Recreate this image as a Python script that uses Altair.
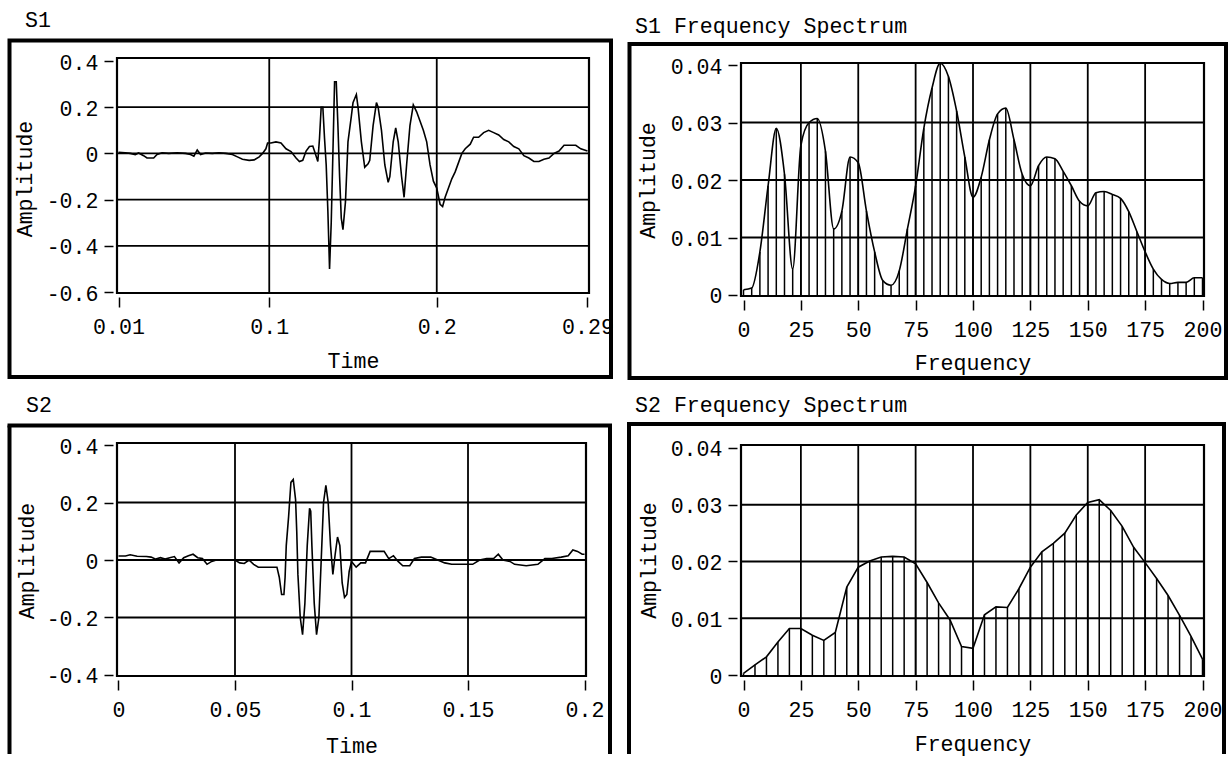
import altair as alt
import pandas as pd

FONT = "Liberation Mono"
FS = 21.6

# ---------------- data ----------------
s1_t = [0.010, 0.014, 0.017, 0.020, 0.022, 0.025, 0.027, 0.031, 0.033, 0.036, 0.040, 0.045, 0.050,
        0.053, 0.055, 0.057, 0.059, 0.062, 0.066, 0.070, 0.074, 0.078, 0.081, 0.084, 0.088, 0.091,
        0.094, 0.096, 0.098, 0.099, 0.101, 0.104, 0.107, 0.110, 0.113, 0.116, 0.118, 0.120, 0.122,
        0.124, 0.126, 0.127, 0.129, 0.130, 0.131, 0.132, 0.133, 0.134, 0.135, 0.136, 0.137, 0.138,
        0.139, 0.140, 0.141, 0.142, 0.143, 0.144, 0.1455, 0.147, 0.149, 0.150, 0.152, 0.153, 0.155,
        0.157, 0.159, 0.160, 0.162, 0.164, 0.165, 0.167, 0.169, 0.171, 0.172, 0.174, 0.1755, 0.177,
        0.179, 0.1805, 0.182, 0.184, 0.186, 0.188, 0.190, 0.192, 0.194, 0.196, 0.198, 0.200, 0.202,
        0.2035, 0.205, 0.207, 0.209, 0.211, 0.213, 0.215, 0.217, 0.220, 0.222, 0.225, 0.228, 0.231,
        0.234, 0.237, 0.240, 0.243, 0.246, 0.249, 0.252, 0.255, 0.258, 0.261, 0.264, 0.267, 0.270,
        0.273, 0.276, 0.280, 0.283, 0.286, 0.290]
s1_a = [0.005, 0.003, 0.0, -0.005, 0.002, -0.01, -0.02, -0.02, -0.005, 0.003, 0.0, 0.003, 0.0,
        -0.005, -0.012, 0.015, -0.005, 0.002, 0.0, 0.003, 0.0, -0.005, -0.015, -0.025, -0.03, -0.028,
        -0.015, 0.0, 0.02, 0.045, 0.045, 0.05, 0.045, 0.02, 0.008, -0.02, -0.035, -0.03, 0.01,
        0.03, 0.032, 0.01, -0.035, 0.065, 0.2, 0.2, 0.065, -0.05, -0.25, -0.5, -0.3, 0.0,
        0.31, 0.31, 0.12, -0.1, -0.28, -0.33, -0.21, 0.05, 0.16, 0.22, 0.255, 0.2, 0.05,
        -0.06, -0.045, -0.03, 0.12, 0.22, 0.2, 0.1, -0.05, -0.125, -0.1, 0.05, 0.11, 0.05,
        -0.1, -0.19, -0.05, 0.12, 0.21, 0.18, 0.14, 0.1, 0.05, -0.05, -0.12, -0.15, -0.22,
        -0.23, -0.19, -0.15, -0.11, -0.08, -0.04, 0.0, 0.02, 0.04, 0.07, 0.07, 0.09, 0.1,
        0.09, 0.08, 0.06, 0.05, 0.03, 0.02, -0.01, -0.02, -0.035, -0.035, -0.025, -0.02, 0.0,
        0.01, 0.035, 0.035, 0.035, 0.02, 0.01]

s2_t = [0.000, 0.003, 0.005, 0.008, 0.012, 0.014, 0.016, 0.018, 0.020, 0.022, 0.024, 0.026, 0.028,
        0.030, 0.032, 0.034, 0.036, 0.038, 0.040, 0.042, 0.045, 0.050, 0.052, 0.054, 0.056, 0.058,
        0.060, 0.063, 0.066, 0.068, 0.069, 0.070, 0.071, 0.0715, 0.072, 0.073, 0.074, 0.075, 0.076,
        0.0765, 0.077, 0.078, 0.079, 0.080, 0.081, 0.082, 0.0825, 0.083, 0.084, 0.085, 0.086, 0.087,
        0.088, 0.089, 0.090, 0.091, 0.092, 0.093, 0.094, 0.095, 0.096, 0.097, 0.098, 0.099, 0.100,
        0.102, 0.104, 0.106, 0.108, 0.112, 0.114, 0.116, 0.118, 0.120, 0.122, 0.125, 0.127, 0.130,
        0.134, 0.137, 0.140, 0.143, 0.148, 0.152, 0.155, 0.158, 0.161, 0.163, 0.165, 0.168, 0.170,
        0.175, 0.180, 0.183, 0.186, 0.190, 0.193, 0.195, 0.197, 0.199, 0.200]
s2_a = [0.014, 0.014, 0.018, 0.013, 0.012, 0.01, 0.003, 0.008, 0.003, 0.008, 0.012, -0.01, 0.008,
        0.015, 0.02, 0.008, 0.005, -0.015, -0.005, 0.0, 0.0, 0.0, -0.01, -0.012, 0.0, -0.015,
        -0.025, -0.025, -0.025, -0.025, -0.06, -0.12, -0.12, -0.06, 0.05, 0.15, 0.27, 0.28, 0.21,
        0.1, -0.05, -0.2, -0.26, -0.15, 0.05, 0.18, 0.17, 0.05, -0.15, -0.26, -0.2, 0.0,
        0.2, 0.26, 0.2, 0.05, -0.05, 0.02, 0.08, 0.05, -0.08, -0.13, -0.12, -0.04, -0.005,
        -0.025, -0.01, -0.01, 0.03, 0.03, 0.03, 0.005, 0.015, -0.005, -0.02, -0.02, 0.005, 0.01,
        0.01, 0.0, -0.01, -0.015, -0.015, -0.015, 0.0, 0.005, 0.005, 0.02, 0.0, -0.005, -0.015,
        -0.02, -0.015, 0.005, 0.005, 0.01, 0.015, 0.035, 0.03, 0.02, 0.02]

s1_f = [0, 3.57, 7.14, 10.71, 14.29, 17.86, 21.43, 25, 28.57, 32.14, 35.71, 39.29, 42.86, 46.43,
        50, 53.57, 57.14, 60.71, 64.29, 67.86, 71.43, 75, 78.57, 82.14, 85.71, 89.29, 92.86, 96.43,
        100, 103.57, 107.14, 110.71, 114.29, 117.86, 121.43, 125, 128.57, 132.14, 135.71, 139.29,
        142.86, 146.43, 150, 153.57, 157.14, 160.71, 164.29, 167.86, 171.43, 175, 178.57, 182.14,
        185.71, 189.29, 192.86, 196.43, 200]
s1_m = [0.0009, 0.0012, 0.0075, 0.019, 0.029, 0.021, 0.0045, 0.026, 0.030, 0.0307, 0.025, 0.0115,
        0.0146, 0.024, 0.023, 0.0146, 0.0075, 0.0025, 0.0017, 0.0042, 0.0115, 0.019, 0.029, 0.036,
        0.0403, 0.038, 0.032, 0.024, 0.017, 0.0205, 0.027, 0.0315, 0.0325, 0.027, 0.021, 0.019,
        0.0225, 0.024, 0.0237, 0.0215, 0.019, 0.0163, 0.0155, 0.0178, 0.018, 0.0175, 0.0168, 0.0145,
        0.011, 0.0075, 0.0045, 0.0027, 0.002, 0.0022, 0.0022, 0.003, 0.003]

s2_f = [0, 5, 10, 15, 20, 25, 30, 35, 40, 45, 50, 55, 60, 65, 70, 75, 80, 85, 90, 95, 100,
        105, 110, 115, 120, 125, 130, 135, 140, 145, 150, 155, 160, 165, 170, 175, 180, 185, 190,
        195, 200]
s2_m = [0.0003, 0.0018, 0.0032, 0.0058, 0.0082, 0.0082, 0.007, 0.0061, 0.0075, 0.0155, 0.019,
        0.0201, 0.0208, 0.0209, 0.0208, 0.0196, 0.0163, 0.0127, 0.0097, 0.005, 0.0047, 0.0106,
        0.012, 0.0119, 0.0152, 0.019, 0.0217, 0.0232, 0.025, 0.0282, 0.0304, 0.0309, 0.029,
        0.0262, 0.0225, 0.0198, 0.017, 0.014, 0.0105, 0.0068, 0.0028]

s1_xticks = [0.01, 0.1, 0.2, 0.29]
s1_yticks = [-0.6, -0.4, -0.2, 0, 0.2, 0.4]
s2_xticks = [0, 0.05, 0.1, 0.15, 0.2]
s2_yticks = [-0.4, -0.2, 0, 0.2, 0.4]
f_xticks = [0, 25, 50, 75, 100, 125, 150, 175, 200]
f_yticks = [0, 0.01, 0.02, 0.03, 0.04]

DUMMY = alt.Data(values=[{"k": 1}])


def panel(x, y, stems, interp, cfg):
    w, h, top = cfg["w"], cfg["h"], cfg["top"]
    xenc = alt.X(
        "x:Q",
        scale=alt.Scale(domain=cfg["xdom"], nice=False, zero=False),
        axis=alt.Axis(
            values=cfg["xticks"], labelExpr="'' + datum.value", grid=False, domain=False,
            offset=4, tickSize=10, tickWidth=1.5, tickColor="black",
            labelFont=FONT, labelFontSize=FS, labelColor="black", labelBaseline="alphabetic",
            labelPadding=26, labelAlign="center", labelFlush=False, labelOverlap=False,
            title=cfg["xtitle"], titleFont=FONT, titleFontSize=FS, titleFontWeight="normal",
            titleColor="black", titleX=w / 2, titleY=cfg["xty"], titleBaseline="alphabetic",
            titleAlign="center",
        ),
    )
    yenc = alt.Y(
        "y:Q",
        scale=alt.Scale(domain=cfg["ydom"], nice=False, zero=False),
        axis=alt.Axis(
            values=cfg["yticks"], labelExpr="'' + datum.value", grid=False, domain=False,
            offset=4, tickSize=9, tickWidth=1.5, tickColor="black",
            labelFont=FONT, labelFontSize=FS, labelColor="black", labelBaseline="middle",
            labelAlign="right", labelPadding=6, labelOffset=2, labelFlush=False,
            labelOverlap=False,
            title="Amplitude", titleFont=FONT, titleFontSize=FS, titleFontWeight="normal",
            titleColor="black", titleAngle=270, titleX=cfg["ytx"], titleY=cfg["yty"],
            titleAlign="center", titleBaseline="middle",
        ),
    )
    layers = []
    layers.append(
        alt.Chart(pd.DataFrame({"x": cfg["xgrid"]})).mark_rule(color="black", strokeWidth=1.8)
        .encode(x=xenc, y=alt.value(top), y2=alt.value("height"))
    )
    layers.append(
        alt.Chart(pd.DataFrame({"y": cfg["ygrid"]})).mark_rule(color="black", strokeWidth=1.8)
        .encode(y=yenc)
    )
    df = pd.DataFrame({"x": x, "y": y})
    if stems:
        layers.append(
            alt.Chart(df).mark_rule(color="black", strokeWidth=1.5)
            .encode(x=xenc, y=yenc, y2=alt.datum(0))
        )
    layers.append(
        alt.Chart(df).mark_line(color="black", strokeWidth=1.6, interpolate=interp)
        .encode(x=xenc, y=yenc)
    )
    # plot border
    layers.append(
        alt.Chart(DUMMY).mark_rect(fillOpacity=0, stroke="black", strokeWidth=2.2)
        .encode(x=alt.value(0), x2=alt.value("width"), y=alt.value(top), y2=alt.value("height"))
    )
    # outer frame
    fx1, fx2, fy1, fy2 = cfg["frame"]
    if cfg["closed"]:
        layers.append(
            alt.Chart(DUMMY).mark_rect(fillOpacity=0, stroke="black", strokeWidth=4)
            .encode(x=alt.value(fx1), x2=alt.value(fx2), y=alt.value(fy1), y2=alt.value(fy2))
        )
    else:
        for enc in (
            dict(x=alt.value(fx1), y=alt.value(fy1), y2=alt.value(fy2)),
            dict(x=alt.value(fx2), y=alt.value(fy1), y2=alt.value(fy2)),
            dict(x=alt.value(fx1 - 2), x2=alt.value(fx2 + 2), y=alt.value(fy1)),
        ):
            layers.append(
                alt.Chart(DUMMY).mark_rule(color="black", strokeWidth=4).encode(**enc)
            )
    # panel title
    layers.append(
        alt.Chart(DUMMY).mark_text(align="left", baseline="alphabetic", font=FONT,
                                   fontSize=FS, color="black")
        .encode(x=alt.value(cfg["tx"]), y=alt.value(cfg["ty"]), text=alt.value(cfg["title"]))
    )
    # canvas anchors (invisible)
    for ax, ay in cfg.get("anchors", []):
        layers.append(
            alt.Chart(DUMMY).mark_rect(opacity=0)
            .encode(x=alt.value(ax), x2=alt.value(ax + 1), y=alt.value(ay), y2=alt.value(ay + 1))
        )
    return alt.layer(*layers).properties(width=w, height=h)


tl = panel(s1_t, s1_a, False, "linear", dict(
    w=472, h=235, top=0, xdom=[0.0091, 0.2909], ydom=[-0.6043, 0.413],
    xticks=s1_xticks, yticks=s1_yticks, xgrid=[0.1, 0.2], ygrid=[-0.4, -0.2, 0, 0.2],
    xtitle="Time", xty=70, ytx=-88, yty=120.5,
    frame=(-107.5, 494, -17.5, 319), closed=True,
    title="S1", tx=-92, ty=-31.5, anchors=[(-117, -58)],
))
tr = panel(s1_f, s1_m, True, "monotone", dict(
    w=463, h=238, top=5, xdom=[-1.09, 200.65], ydom=[-0.000174, 0.04122],
    xticks=f_xticks, yticks=f_yticks, xgrid=[25, 50, 75, 100, 125, 150, 175],
    ygrid=[0.01, 0.02, 0.03],
    xtitle="Frequency", xty=69, ytx=-89, yty=122,
    frame=(-111.5, 485, -14, 320), closed=True,
    title="S1 Frequency Spectrum", tx=-106, ty=-25.5,
))
bl = panel(s2_t, s2_a, False, "linear", dict(
    w=469, h=233, top=0, xdom=[-0.00064, 0.20064], ydom=[-0.40348, 0.40696],
    xticks=s2_xticks, yticks=s2_yticks, xgrid=[0.05, 0.1, 0.15], ygrid=[-0.2, 0, 0.2],
    xtitle="Time", xty=72, ytx=-86, yty=117.5,
    frame=(-107.5, 493, -17.5, 311), closed=False,
    title="S2", tx=-91, ty=-31.5,
))
br = panel(s2_f, s2_m, True, "linear", dict(
    w=463, h=233, top=2, xdom=[-1.09, 200.65], ydom=[-0.000176, 0.04088],
    xticks=f_xticks, yticks=f_yticks, xgrid=[25, 50, 75, 100, 125, 150, 175],
    ygrid=[0.01, 0.02, 0.03],
    xtitle="Frequency", xty=70, ytx=-88, yty=117,
    frame=(-112, 483, -19, 311), closed=False,
    title="S2 Frequency Spectrum", tx=-106, ty=-31.5, anchors=[(489, 315)],
))

chart = alt.concat(
    tl, tr, bl, br, columns=2, spacing={"row": 147, "column": 152}, bounds="flush"
).properties(padding=0, background="white").configure_view(strokeWidth=0)

chart.save("out.html", embed_options={"renderer": "svg", "actions": False})
